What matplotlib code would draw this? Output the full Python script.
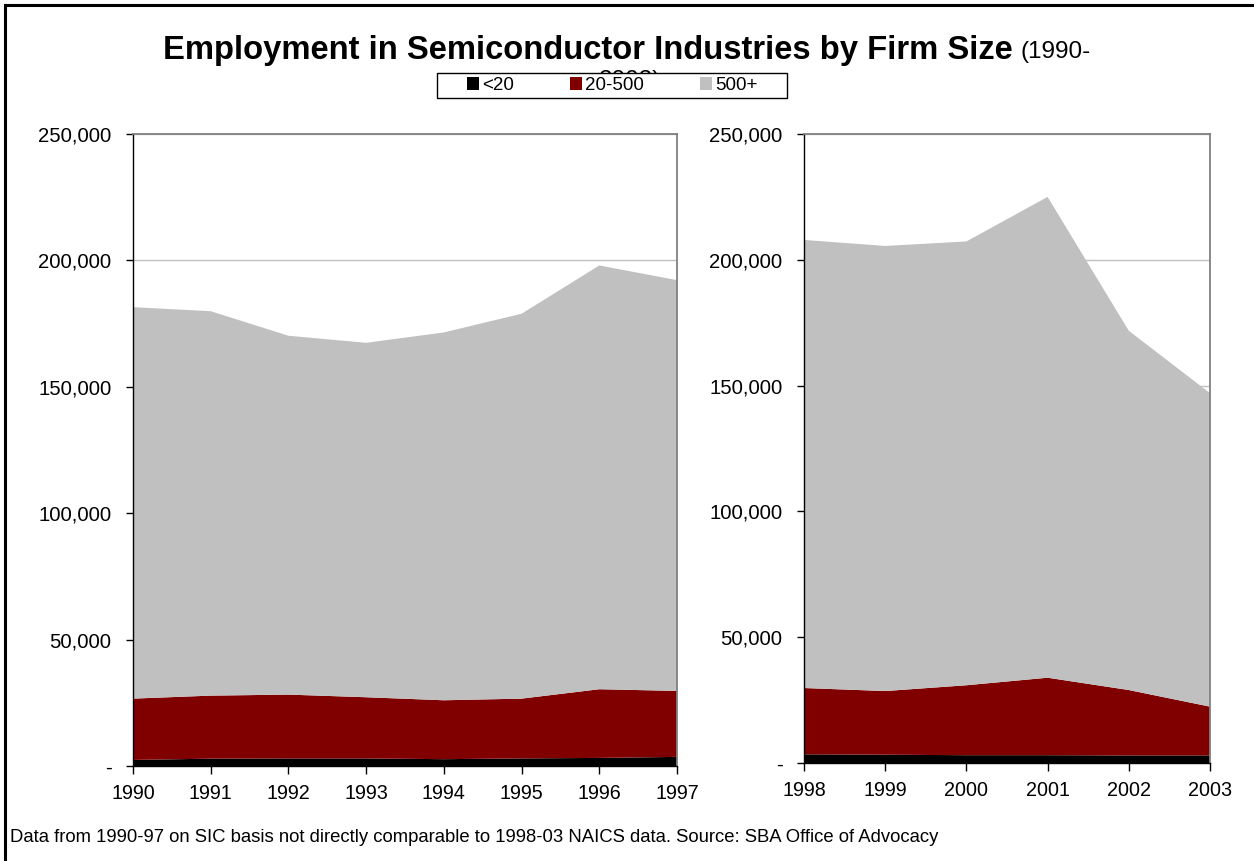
import matplotlib
matplotlib.use("Agg")
import matplotlib.pyplot as plt
from matplotlib.patches import Patch, Rectangle
from matplotlib.lines import Line2D
from matplotlib.ticker import FuncFormatter, MultipleLocator

plt.rcParams['font.family'] = ['Liberation Sans', 'DejaVu Sans']

# ---- data ----
years_sic = [1990, 1991, 1992, 1993, 1994, 1995, 1996, 1997]
under20_sic = [2400, 2900, 3000, 3000, 2700, 3000, 3200, 3600]
top20_500_sic = [26650, 27840, 28240, 27200, 26000, 26650, 30370, 29700]
total_sic = [181500, 179900, 170200, 167400, 171500, 178900, 198000, 192200]

years_naics = [1998, 1999, 2000, 2001, 2002, 2003]
under20_naics = [3450, 3300, 3100, 3100, 3000, 3000]
top20_500_naics = [29800, 28600, 30900, 33900, 29000, 22400]
total_naics = [207900, 205500, 207300, 225000, 171800, 147000]

series_labels = ['<20', '20-500', '500+']
colors = ['#000000', '#800000', '#C0C0C0']

title = 'Employment in Semiconductor Industries by Firm Size'
subtitle_a = '(1990-'
subtitle_b = '2003)'
footer = ('Data from 1990-97 on SIC basis not directly comparable to 1998-03 '
          'NAICS data. Source: SBA Office of Advocacy')

W, H = 1254, 861
fig = plt.figure(figsize=(W / 100, H / 100), dpi=100)


def layers(u, mid, tot):
    a = list(u)
    b = [m - x for m, x in zip(mid, u)]
    c = [t - m for t, m in zip(tot, mid)]
    return a, b, c


def fmt(v, pos):
    return '-' if v == 0 else f'{v:,.0f}'


def setup(ax, years, u, mid, tot):
    a, b, c = layers(u, mid, tot)
    ax.stackplot(years, a, b, c, colors=colors, zorder=2, linewidth=0)
    ax.set_xlim(years[0], years[-1])
    ax.set_ylim(0, 250000)
    ax.yaxis.set_major_locator(MultipleLocator(50000))
    ax.yaxis.set_major_formatter(FuncFormatter(fmt))
    ax.set_xticks(years)
    ax.set_xticklabels([str(y) for y in years])
    ax.grid(axis='y', color='#C0C0C0', linewidth=1.0, zorder=0)
    ax.set_axisbelow(True)
    for s in ['top', 'right']:
        ax.spines[s].set_color('#808080')
        ax.spines[s].set_linewidth(1.3)
    for s in ['left', 'bottom']:
        ax.spines[s].set_color('#000000')
        ax.spines[s].set_linewidth(1.0)
    ax.tick_params(axis='y', direction='out', length=5, width=1, pad=10.5,
                   labelsize=14.6)
    ax.tick_params(axis='x', direction='out', length=6, width=1, pad=7,
                   labelsize=14.2)


ax1 = fig.add_axes([133 / W, 1 - 766 / H, (677 - 133) / W, (766 - 134) / H])
setup(ax1, years_sic, under20_sic, top20_500_sic, total_sic)
ax2 = fig.add_axes([804 / W, 1 - 763 / H, (1210 - 804) / W, (763 - 134) / H])
setup(ax2, years_naics, under20_naics, top20_500_naics, total_naics)

# title
fig.text(163 / W, 1 - 50 / H, title, fontsize=23.6, fontweight='bold',
         ha='left', va='center')
fig.text(1020 / W, 1 - 52 / H, subtitle_a, fontsize=17.5, ha='left',
         va='center')
fig.text(630 / W, 1 - 81 / H, subtitle_b, fontsize=17.5, ha='center',
         va='center', zorder=1)

# legend frame drawn separately
fig.add_artist(Rectangle((437 / W, 1 - 98 / H), 350 / W, 25 / H,
                         transform=fig.transFigure, facecolor='white',
                         edgecolor='black', linewidth=1.0, zorder=4))

handles = [Patch(facecolor=c, edgecolor='none') for c in colors]
leg = fig.legend(handles, series_labels, ncol=3, loc='center',
                 bbox_to_anchor=(612 / W, 1 - 85.5 / H),
                 frameon=False, fontsize=13.5, handlelength=0.65,
                 handleheight=0.65, handletextpad=0.15, columnspacing=3.0,
                 borderpad=0, borderaxespad=0)
leg.set_zorder(5)

# footer
fig.text(10 / W, 1 - 838 / H, footer, fontsize=13.3, ha='left', va='center')

# outer border (left and top edges visible)
fig.add_artist(Line2D([5 / W, 5 / W], [0, 1 - 5 / H], color='black',
                      linewidth=2.2, transform=fig.transFigure))
fig.add_artist(Line2D([5 / W, 1], [1 - 5 / H, 1 - 5 / H], color='black',
                      linewidth=2.2, transform=fig.transFigure))

fig.savefig('out.png', dpi=100)
